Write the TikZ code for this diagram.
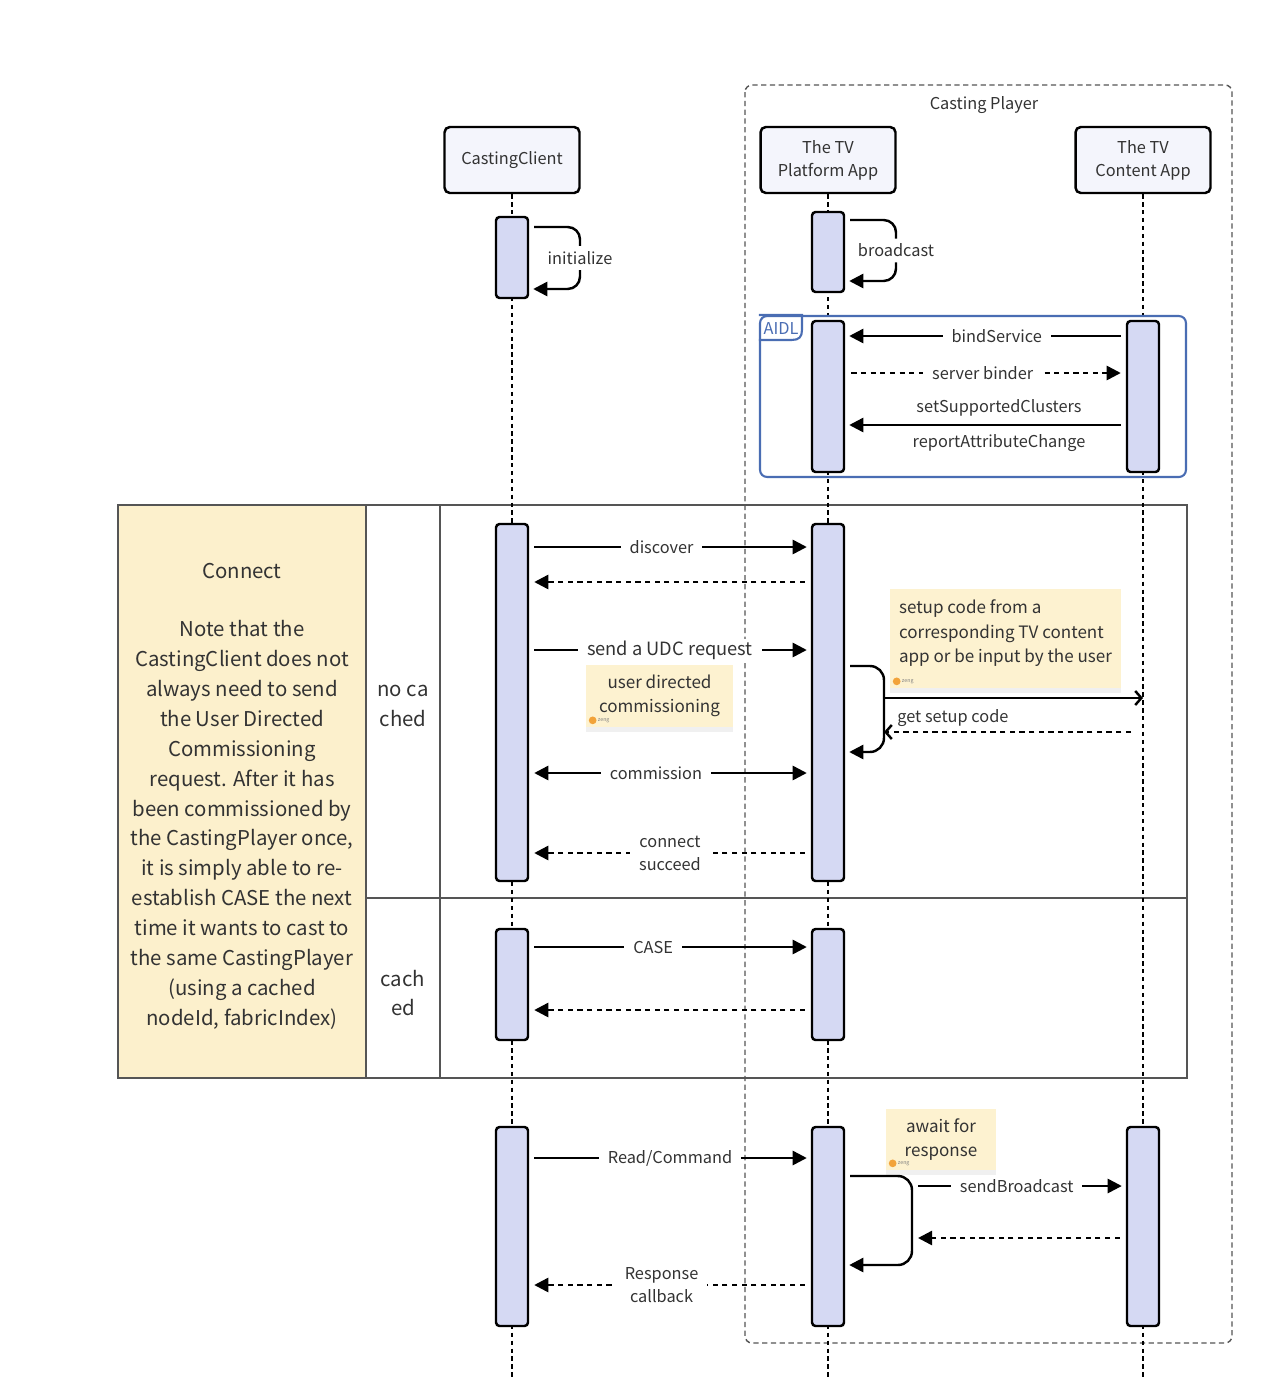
\documentclass[tikz,border=0pt]{standalone}
\usepackage{fontspec}
\setmainfont{Noto Sans CJK SC}
\usetikzlibrary{positioning,calc,arrows.meta,shadows}

\definecolor{barfill}{HTML}{D5D9F3}
\definecolor{boxfill}{HTML}{F4F5FC}
\definecolor{notefill}{HTML}{FDF2D0}
\definecolor{connfill}{HTML}{FCF0CC}
\definecolor{aidlblue}{HTML}{4A6DB3}
\definecolor{txt}{HTML}{333333}
\definecolor{framegray}{HTML}{555555}
\definecolor{dotorange}{HTML}{F2A33A}

% activation bar: name, x, top y, bottom y
\newcommand{\actbar}[4]{\node[actbar, minimum height={(#4-#3)*0.02cm}] (#1) at (#2,{(#3+#4)/2}) {};}

\begin{document}
\begin{tikzpicture}[x=0.02cm, y=-0.02cm,
    >={Triangle[length=8pt,width=8pt]},
    every node/.style={text=txt, font=\fontsize{9.3}{13}\selectfont},
    participant/.style={draw, line width=1.4pt, fill=boxfill, rounded corners=3pt,
        minimum width=2.7cm, minimum height=1.32cm, align=center},
    actbar/.style={draw, line width=1.4pt, fill=barfill, rounded corners=2pt,
        minimum width=0.64cm, inner sep=0pt},
    lifeline/.style={line width=1.4pt, dash pattern=on 2.5pt off 2pt},
    msg/.style={line width=1.4pt, ->, shorten <=0.1cm, shorten >=0.08cm},
    reply/.style={line width=1.4pt, ->, dash pattern=on 3pt off 2.5pt,
        shorten <=0.12cm, shorten >=0.1cm},
    openhead/.style={-{Straight Barb[length=3.5pt,width=8pt]}},
    lbl/.style={fill=white, inner xsep=5pt, inner ysep=1pt},
    biglbl/.style={font=\fontsize{10.4}{14}\selectfont},
    bigtext/.style={align=center, font=\fontsize{11.6}{17}\selectfont},
    note/.style={fill=notefill, inner sep=0pt, font=\fontsize{9.7}{14}\selectfont,
        drop shadow={shadow xshift=0pt, shadow yshift=-3pt, opacity=0.12}},
    author/.style={font=\fontsize{3}{3}\selectfont, text=gray, inner sep=0.5pt, anchor=west}]

    %Background
    \useasboundingbox (0,0) rectangle (1261,1399);

    %Frames
    \fill[connfill] (118,505) rectangle (366,1078);
    \draw[framegray, line width=0.9pt] (118,505) rectangle (1187,1078);
    \draw[framegray, line width=0.9pt] (366,505) -- (366,1078);
    \draw[framegray, line width=0.9pt] (440,505) -- (440,1078);
    \draw[framegray, line width=0.9pt] (366,898) -- (1187,898);
    \draw[framegray, line width=0.8pt, dash pattern=on 3pt off 2pt, rounded corners=4pt]
        (745,85) rectangle (1232,1343);
    \node (cplayer) at (984,105) {Casting Player};

    %Participants
    \node[participant] (cc) at (512,160) {CastingClient};
    \node[participant] (tvp) at (828,160) {The TV\\Platform App};
    \node[participant] (tvc) at (1143,160) {The TV\\Content App};

    %Lifelines
    \draw[lifeline] (cc.south) -- (cc.south |- 0,1380);
    \draw[lifeline] (tvp.south) -- (tvp.south |- 0,1380);
    \draw[lifeline] (tvc.south) -- (tvc.south |- 0,1380);

    %AIDL group
    \node[draw=aidlblue, line width=1.2pt, rounded corners=4pt, minimum width=8.52cm,
        minimum height=3.22cm, inner sep=0pt] (aidl) at (973,396.5) {};
    \draw[aidlblue, line width=1.2pt] (aidl.north west) -- ++(43,0) -- ++(0,15)
        .. controls +(0,7) and +(7,0) .. ++(-10,10) -- ++(-33,0);
    \node[text=aidlblue, inner sep=0pt] (aidltag) at (781,329) {AIDL};

    %Activation bars
    \actbar{cc1}{512}{217}{298}
    \actbar{tvp1}{828}{212}{292}
    \actbar{tvp2}{828}{321}{472}
    \actbar{tvc1}{1143}{321}{472}
    \actbar{cc2}{512}{524}{881}
    \actbar{tvp3}{828}{524}{881}
    \actbar{cc3}{512}{929}{1040}
    \actbar{tvp4}{828}{929}{1040}
    \actbar{cc4}{512}{1127}{1326}
    \actbar{tvp5}{828}{1127}{1326}
    \actbar{tvc2}{1143}{1127}{1326}

    %Self calls
    \draw[msg, rounded corners=7pt] (cc1.east |- 0,227) -- (580,227)
        -- node[fill=white, inner xsep=1pt, inner ysep=3pt] {initialize} (580,289)
        -- (cc1.east |- 0,289);
    \draw[msg, rounded corners=7pt] (tvp1.east |- 0,220) -- (896,220)
        -- node[fill=white, inner xsep=1pt, inner ysep=3pt] {broadcast} (896,281)
        -- (tvp1.east |- 0,281);

    %AIDL messages
    \draw[msg] (tvc1.west |- 0,336) -- node[lbl, pos=0.46] {bindService} (tvp2.east |- 0,336);
    \draw[reply] (tvp2.east |- 0,373) -- node[lbl, pos=0.49] {server binder} (tvc1.west |- 0,373);
    \draw[msg] (tvc1.west |- 0,425) -- (tvp2.east |- 0,425);
    \node (setsc) at (999,408) {setSupportedClusters};
    \node (rac) at (999,443) {reportAttributeChange};

    %Connect
    \node[bigtext] (conntext) at (242,796)
        {Connect\\[16.5pt]Note that the\\CastingClient does not\\always need to send\\the User Directed\\
        Commissioning\\request. After it has\\been commissioned by\\the CastingPlayer once,\\
        it is simply able to re-\\establish CASE the next\\time it wants to cast to\\
        the same CastingPlayer\\(using a cached\\nodeId, fabricIndex)};
    \node[bigtext] (nocache) at (403,706) {no ca\\ched};
    \node[bigtext] (cache) at (403,993) {cach\\ed};

    \draw[msg] (cc2.east |- 0,547) -- node[lbl, pos=0.47] {discover} (tvp3.west |- 0,547);
    \draw[reply] (tvp3.west |- 0,582) -- (cc2.east |- 0,582);
    \draw[msg] (cc2.east |- 0,650) -- node[lbl, biglbl] {send a UDC request} (tvp3.west |- 0,650);
    \draw[msg, <->] (cc2.east |- 0,773) -- node[lbl, pos=0.45] {commission} (tvp3.west |- 0,773);
    \draw[reply] (tvp3.west |- 0,853) -- node[lbl, align=center] {connect\\succeed} (cc2.east |- 0,853);

    %Setup code
    \draw[msg, rounded corners=8pt] (tvp3.east |- 0,666) -- (884,666) -- (884,752)
        -- (tvp3.east |- 0,752);
    \coordinate (branch) at (884,698);
    \draw[line width=1.4pt, openhead] (branch) -- (tvc.south |- 0,698);
    \draw[line width=1.4pt, openhead, dash pattern=on 3pt off 2.5pt, shorten <=0.24cm]
        (tvc.south |- 0,732) -- (branch |- 0,732);
    \node[anchor=west, inner sep=0pt] (getcode) at (897,718) {get setup code};

    %Cached
    \draw[msg] (cc3.east |- 0,947) -- node[lbl, pos=0.44] {CASE} (tvp4.west |- 0,947);
    \draw[reply] (tvp4.west |- 0,1010) -- (cc3.east |- 0,1010);

    %Read / command
    \draw[msg] (cc4.east |- 0,1158) -- node[lbl] {Read/Command} (tvp5.west |- 0,1158);
    \draw[msg, rounded corners=8pt] (tvp5.east |- 0,1176) -- (912,1176) -- (912,1265)
        -- (tvp5.east |- 0,1265);
    \draw[msg, shorten <=0pt] (918,1186) -- node[lbl, pos=0.475] {sendBroadcast} (tvc2.west |- 0,1186);
    \draw[reply, shorten >=0pt] (tvc2.west |- 0,1238) -- (918,1238);
    \draw[reply] (tvp5.west |- 0,1285) -- node[lbl, pos=0.53, align=center] {Response\\callback}
        (cc4.east |- 0,1285);

    %Notes
    \node[note, minimum width=2.94cm, minimum height=1.24cm, align=center] (udc) at (659.5,696)
        {user directed\\commissioning};
    \node[note, minimum width=4.62cm, minimum height=1.98cm, align=left]
        (setup) at (1005.5,638.5) {setup code from a\\corresponding TV content\\app or be input by the user\\[-6pt]};
    \node[note, minimum width=2.2cm, minimum height=1.22cm, align=center] (await) at (941,1139.5)
        {await for\\response};
    \foreach \n in {udc,setup,await}{
        \fill[dotorange] ([shift={(7,-7)}]\n.south west) circle (2.2pt);
        \node[author] at ([shift={(11,-7)}]\n.south west) {zeng};
    }
\end{tikzpicture}
\end{document}
